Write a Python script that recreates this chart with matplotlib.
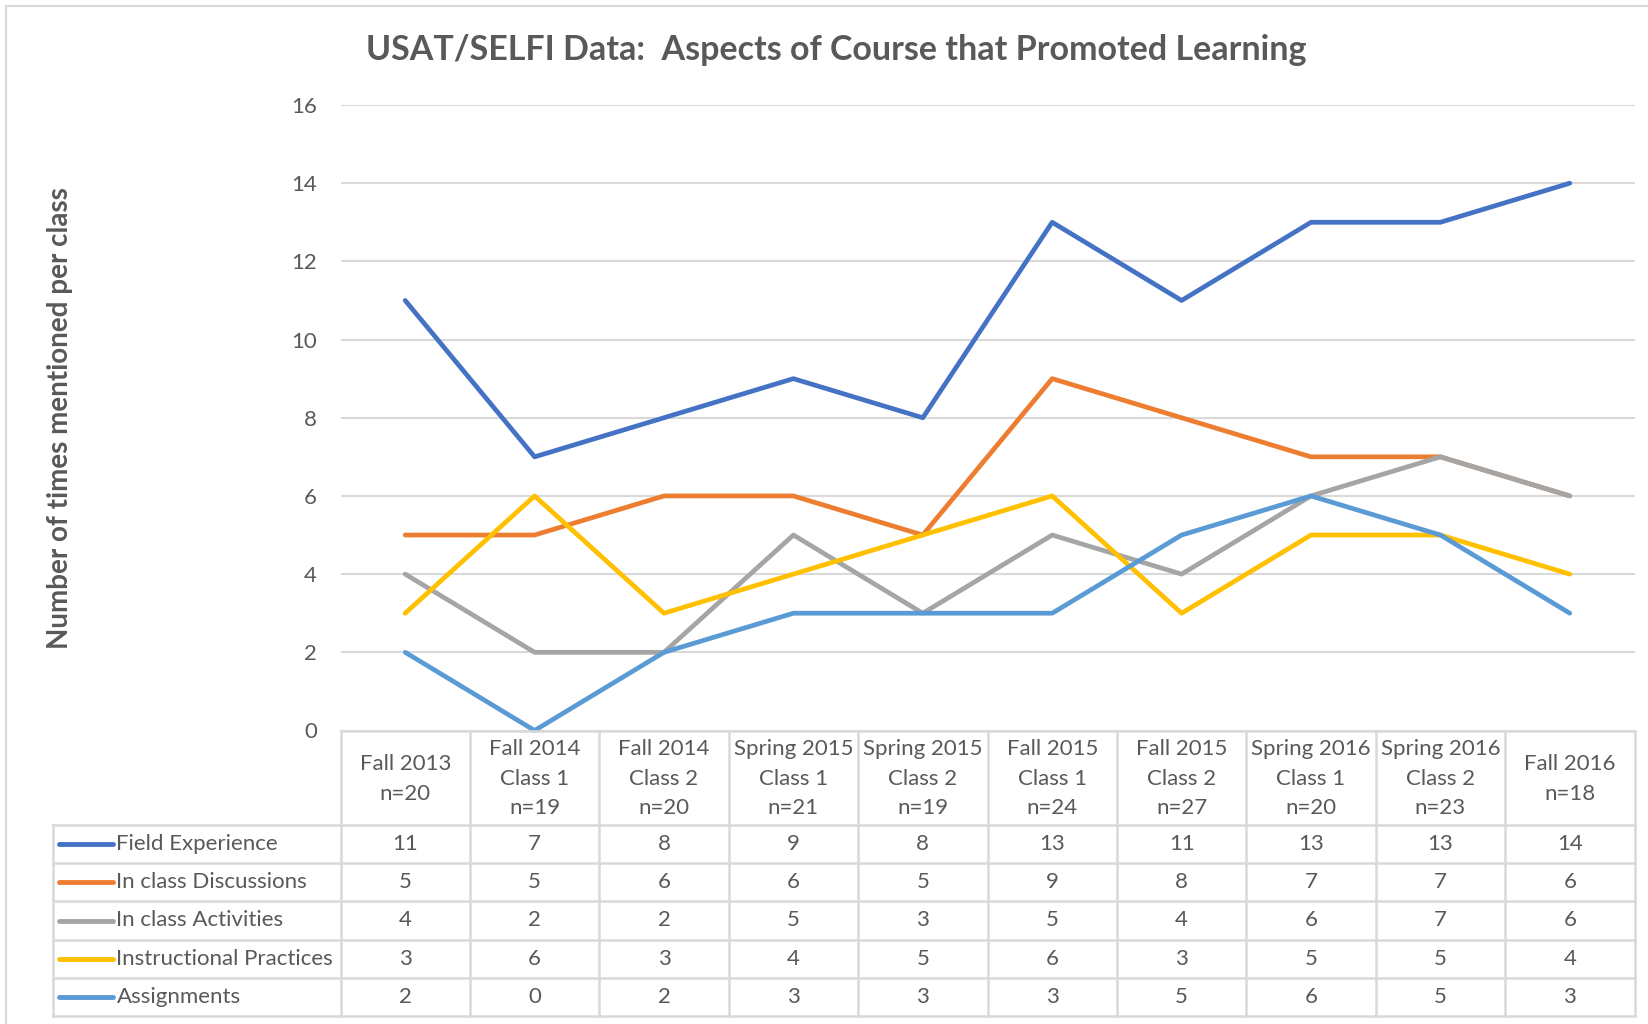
import matplotlib.pyplot as plt
from matplotlib.lines import Line2D

plt.rcParams['font.family'] = ['Lato', 'DejaVu Sans']

classes = ["Fall 2013\nn=20", "Fall 2014\nClass 1\nn=19", "Fall 2014\nClass 2\nn=20",
           "Spring 2015\nClass 1\nn=21", "Spring 2015\nClass 2\nn=19",
           "Fall 2015\nClass 1\nn=24", "Fall 2015\nClass 2\nn=27",
           "Spring 2016\nClass 1\nn=20", "Spring 2016\nClass 2\nn=23", "Fall 2016\nn=18"]
series_names = ["Field Experience", "In class Discussions", "In class Activities",
                "Instructional Practices", "Assignments"]
field_exp = [11, 7, 8, 9, 8, 13, 11, 13, 13, 14]
discussions = [5, 5, 6, 6, 5, 9, 8, 7, 7, 6]
activities = [4, 2, 2, 5, 3, 5, 4, 6, 7, 6]
instr_practices = [3, 6, 3, 4, 5, 6, 3, 5, 5, 4]
assignments = [2, 0, 2, 3, 3, 3, 5, 6, 5, 3]
colors = ['#4472C4', '#ED7D31', '#A5A5A5', '#FFC000', '#5B9BD5']

series = [field_exp, discussions, activities, instr_practices, assignments]
txt = '#595959'
grid = '#D9D9D9'
W, H = 1648, 1024

fig = plt.figure(figsize=(W / 100, H / 100), dpi=100)

# outer chart border
fig.patches.append(plt.Rectangle((6 / W, -0.01), 1.1, 1 - 6 / H + 0.01, transform=fig.transFigure,
                                 fill=False, edgecolor=grid, lw=1.5))

# plot area in pixels
left, right, top, bottom = 340.5, 1634.5, 105, 730.5
ax = fig.add_axes([left / W, 1 - bottom / H, (right - left) / W, (bottom - top) / H])
x = list(range(len(classes)))
for vals, c in zip(series, colors):
    ax.plot(x, vals, color=c, lw=3.4, solid_capstyle='round', solid_joinstyle='round', zorder=3,
            clip_on=False)
ax.set_xlim(-0.5, len(classes) - 0.5)
ax.set_ylim(0, 16)
ax.set_yticks(range(0, 17, 2))
ax.grid(axis='y', color=grid, lw=1.5, zorder=0)
for s in ax.spines.values():
    s.set_visible(False)
ax.set_xticks([])
ax.tick_params(axis='y', length=0, pad=17, labelsize=16, labelcolor=txt)
ax.set_ylabel("Number of times mentioned per class", fontsize=20, fontweight='bold', color=txt,
              labelpad=0)
ax.yaxis.label.set_va('center')
ax.yaxis.set_label_coords((60 - left) / (right - left), 0.5)
fig.text(836 / W, 1 - 50 / H, "USAT/SELFI Data:  Aspects of Course that Promoted Learning",
         ha='center', va='center', fontsize=24.5, fontweight='bold', color=txt)

# data table below the plot
tb_top, hdr_bot, tb_bot, tb_left = 730.5, 825, 1016, 52.5
tab = fig.add_axes([left / W, 1 - tb_bot / H, (right - left) / W, (tb_bot - tb_top) / H])
tab.set_xlim(-0.5, len(classes) - 0.5)
tab.set_ylim(tb_bot - tb_top, 0)
tab.axis('off')
xl = -0.5 - (left - tb_left) / ((right - left) / len(classes))
row_h = (tb_bot - hdr_bot) / len(series)
hb = hdr_bot - tb_top
lk = dict(color=grid, lw=1.8, clip_on=False)
# vertical lines
for i in range(len(classes) + 1):
    tab.plot([i - 0.5, i - 0.5], [0, tb_bot - tb_top], **lk)
tab.plot([xl, xl], [hb, tb_bot - tb_top], **lk)
# horizontal lines
tab.plot([-0.5, len(classes) - 0.5], [0, 0], **lk)
for r in range(len(series) + 1):
    tab.plot([xl, len(classes) - 0.5], [hb + r * row_h] * 2, **lk)
for i, lab in enumerate(classes):
    tab.text(i, hb / 2 + 1, lab, ha='center', va='center', fontsize=16, color=txt, linespacing=1.6)
seg = (right - left) / len(classes)
for r, (name, vals, c) in enumerate(zip(series_names, series, colors)):
    yc = hb + (r + 0.5) * row_h
    tab.add_line(Line2D([xl + 6 / seg, xl + 60 / seg], [yc, yc], color=c, lw=3.5,
                        solid_capstyle='round', clip_on=False))
    tab.text(xl + 64 / seg, yc, name, ha='left', va='center', fontsize=16, color=txt)
    for i, v in enumerate(vals):
        tab.text(i, yc, str(v), ha='center', va='center', fontsize=16, color=txt)

fig.savefig('out.png', dpi=100)
